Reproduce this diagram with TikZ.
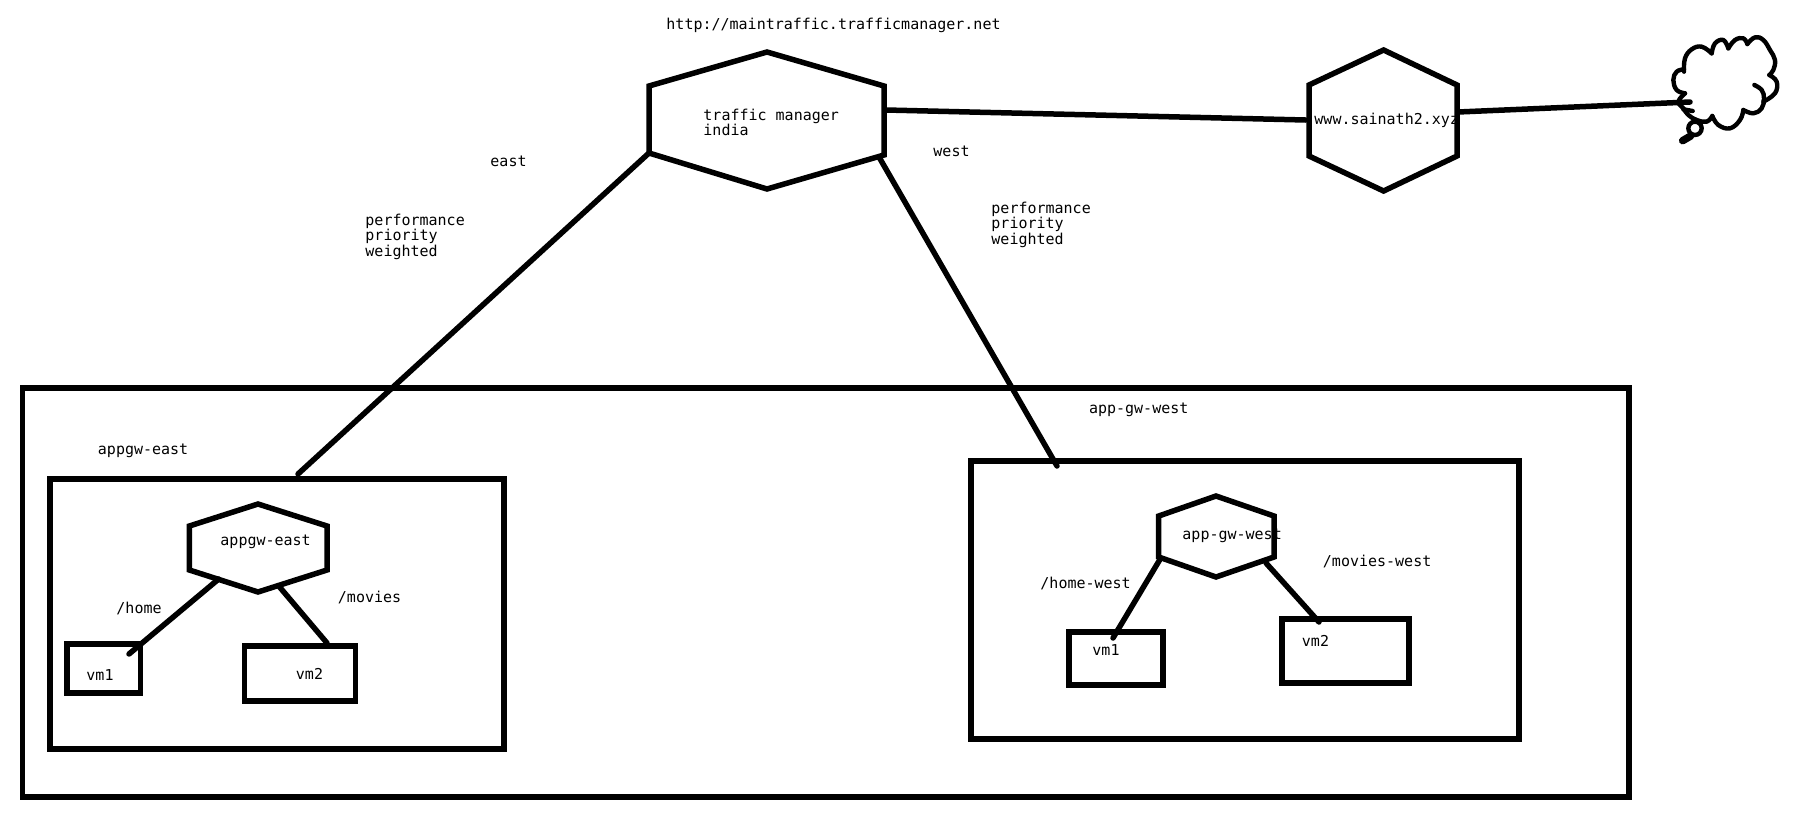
\documentclass[tikz,border=0pt]{standalone}
\usepackage{fontspec}
\setmonofont{DejaVu Sans Mono}
\tikzset{
  x=1pt,y=-1pt,
  every path/.style={line width=5.5pt,draw=black,line join=miter},
  lbl/.style={draw=none,anchor=base west,inner sep=0pt,font=\ttfamily\fontsize{15}{14.3}\selectfont},
  multi/.style={draw=none,anchor=north west,inner sep=0pt,align=left,font=\ttfamily\fontsize{15}{14.3}\selectfont},
  boxn/.style={draw,rectangle,inner sep=0pt,outer sep=0pt,anchor=north west},
  wire/.style={line cap=round},
  cloudline/.style={line width=4.4pt,line cap=round,line join=round},
}
\begin{document}
\begin{tikzpicture}
\useasboundingbox[draw=none,fill=white] (0,0) rectangle (1816,820);
% frames
\node[boxn,minimum width=1606.5pt,minimum height=409pt] (outer) at (22.5,388) {};
\node[boxn,minimum width=454pt,minimum height=270pt] (eastbox) at (50,479) {};
\node[boxn,minimum width=548pt,minimum height=278pt] (westbox) at (971,461) {};
\node[boxn,minimum width=73.5pt,minimum height=49pt] (vmeasta) at (67,644) {};
\node[boxn,minimum width=111pt,minimum height=55pt] (vmeastb) at (244.5,646) {};
\node[boxn,minimum width=94pt,minimum height=53pt] (vmwesta) at (1069,632) {};
\node[boxn,minimum width=127pt,minimum height=64pt] (vmwestb) at (1282,619) {};
% hexagons
\draw (767,52) -- (884,86) -- (884,155) -- (767,189) -- (649,153) -- (649,86) -- cycle;
\draw (1383.6,50) -- (1457,85) -- (1457,156) -- (1383.6,191) -- (1309,156) -- (1309,85) -- cycle;
\draw (258,504) -- (327,526) -- (327,570) -- (258,592) -- (189.4,570) -- (189.4,526) -- cycle;
\draw (1216,496) -- (1274,516) -- (1274,557) -- (1216,577) -- (1158.7,557) -- (1158.7,516) -- cycle;
% connector ends
\coordinate (tmeast) at (649,153);
\coordinate (tmwest) at (879,157);
\coordinate (tmwww) at (886,110);
\coordinate (wwwin) at (1305.6,120);
\coordinate (wwwout) at (1458,112);
\coordinate (cloudin) at (1690,102);
\coordinate (eastin) at (298,474);
\coordinate (westin) at (1057,466);
\coordinate (ehome) at (218.7,579);
\coordinate (evma) at (129,654);
\coordinate (emov) at (279.6,587);
\coordinate (evmb) at (327,643);
\coordinate (whome) at (1159.6,560);
\coordinate (wvma) at (1113,638);
\coordinate (wmov) at (1266,563);
\coordinate (wvmb) at (1319,622);
% connectors
\draw[wire] (tmwww) -- (wwwin);
\draw[wire] (wwwout) -- (cloudin);
\draw[wire] (tmeast) -- (eastin);
\draw[wire] (tmwest) -- (westin);
\draw[wire] (ehome) -- (evma);
\draw[wire] (emov) -- (evmb);
\draw[wire] (whome) -- (wvma);
\draw[wire] (wmov) -- (wvmb);
% cloud
\begin{scope}[shift={(1660,30)},x=0.3333pt,y=-0.3333pt]
\draw[cloudline] plot[smooth,tension=.7] coordinates {(72,125)(75,85)(95,58)(125,50)(155,70)};
\draw[cloudline] plot[smooth,tension=.7] coordinates {(155,70)(165,40)(190,30)(205,55)};
\draw[cloudline] plot[smooth,tension=.7] coordinates {(205,55)(225,30)(250,25)(262,42)};
\draw[cloudline] plot[smooth,tension=.7] coordinates {(262,42)(285,22)(310,30)(330,60)(345,90)(340,120)(328,135)};
\draw[cloudline] plot[smooth,tension=.7] coordinates {(328,135)(350,155)(345,190)(310,215)};
\draw[cloudline] plot[smooth,tension=.7] coordinates {(283,165)(305,180)(312,205)(305,235)(280,250)(250,240)};
\draw[cloudline] plot[smooth,tension=.7] coordinates {(250,240)(240,270)(210,295)(175,285)(157,258)};
\draw[cloudline] plot[smooth,tension=.7] coordinates {(157,258)(140,275)(110,270)(85,255)(70,235)(55,215)(75,190)};
\draw[cloudline] plot[smooth,tension=.7] coordinates {(75,190)(50,180)(40,150)(50,125)(72,118)};
\draw[cloudline] (70,238) -- (98,243);
\draw[cloudline] (105,295) circle[radius=20];
\draw[cloudline,line width=7.5pt] (92,318) -- (68,332);
\end{scope}
% labels
\node[lbl] (url) at (663.7,29) {http://maintraffic.trafficmanager.net};
\node[multi] (tmtext) at (700.7,106.2) {traffic manager\\india};
\node[lbl] (wwwtext) at (1311.7,124) {www.sainath2.xyz};
\node[lbl] (eastlbl) at (487.7,166) {east};
\node[lbl] (westlbl) at (930.7,156) {west};
\node[multi] (perfeast) at (362.7,211.2) {performance\\priority\\weighted};
\node[multi] (perfwest) at (988.7,199.2) {performance\\priority\\weighted};
\node[lbl] (appgweastout) at (95.2,454) {appgw-east};
\node[lbl] (appgweastin) at (217.7,545) {appgw-east};
\node[lbl] (homeeast) at (113.7,613) {/home};
\node[lbl] (movieseast) at (335.2,602) {/movies};
\node[lbl] (vmonee) at (83.7,680) {vm1};
\node[lbl] (vmtwoe) at (293.2,679) {vm2};
\node[lbl] (appgwwestout) at (1086.3,413) {app-gw-west};
\node[lbl] (appgwwestin) at (1179.7,539) {app-gw-west};
\node[lbl] (homewest) at (1037.7,588) {/home-west};
\node[lbl] (movieswest) at (1320.2,566) {/movies-west};
\node[lbl] (vmonew) at (1089.7,655) {vm1};
\node[lbl] (vmtwow) at (1299.2,646) {vm2};
\end{tikzpicture}
\end{document}
